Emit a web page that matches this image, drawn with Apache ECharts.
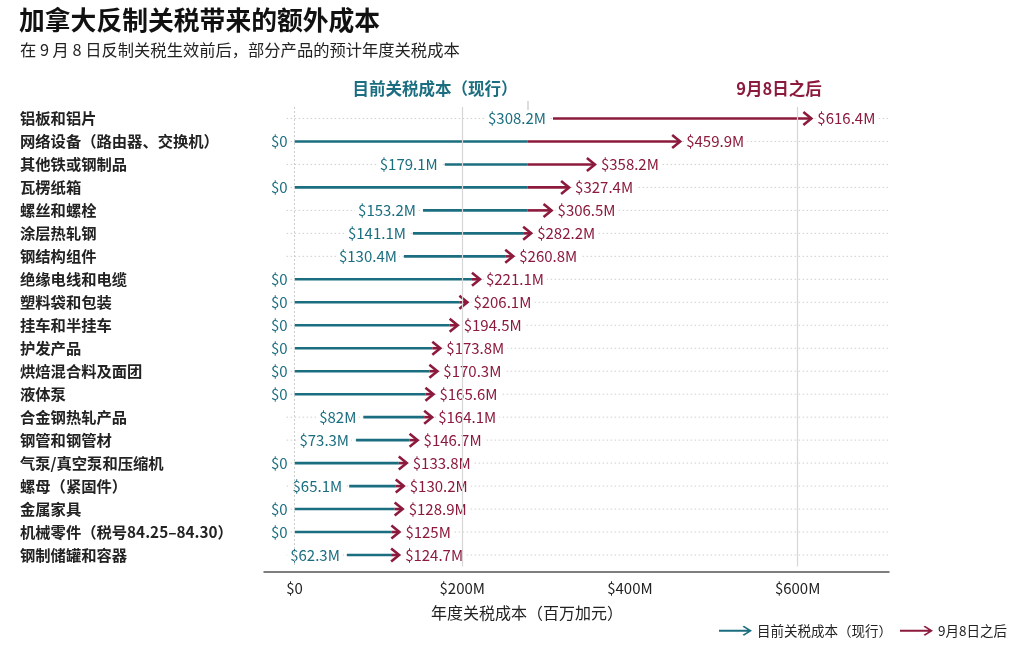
<!DOCTYPE html>
<html>
<head>
<meta charset="utf-8">
<script src="https://cdn.jsdelivr.net/npm/echarts@6/dist/echarts.min.js"></script>
<style>
html,body{margin:0;padding:0;background:#fff;}
#chart{width:1024px;height:653px;}
</style>
</head>
<body>
<div id="chart"></div>
<script>
// ---- data ----
const categories = [
  '铝板和铝片', '网络设备（路由器、交换机）', '其他铁或钢制品', '瓦楞纸箱', '螺丝和螺栓',
  '涂层热轧钢', '钢结构组件', '绝缘电线和电缆', '塑料袋和包装', '挂车和半挂车',
  '护发产品', '烘焙混合料及面团', '液体泵', '合金钢热轧产品', '钢管和钢管材',
  '气泵/真空泵和压缩机', '螺母（紧固件）', '金属家具', '机械零件（税号84.25–84.30）', '钢制储罐和容器'
];
const currentCost = [308.2, 0, 179.1, 0, 153.2, 141.1, 130.4, 0, 0, 0, 0, 0, 0, 82, 73.3, 0, 65.1, 0, 0, 62.3];
const afterCost   = [616.4, 459.9, 358.2, 327.4, 306.5, 282.2, 260.8, 221.1, 206.1, 194.5, 173.8, 170.3, 165.6, 164.1, 146.7, 133.8, 130.2, 128.9, 125, 124.7];
const xTicks = [0, 200, 400, 600];
const gridLineValues = [0, 200, 600];
const seriesNames = ['目前关税成本（现行）', '9月8日之后'];

// ---- style ----
const TEAL = '#1b6e80';
const RED = '#8c1a3c';
const TEXT = '#222222';
const CJK = '"Noto Sans CJK SC", "Noto Sans", sans-serif';
const NUM = '"Noto Sans CJK SC", "Noto Sans", sans-serif';
const SPLIT = 278;   // value at which the arrow changes colour

function fmt(v) { return v === 0 ? '$0' : '$' + v + 'M'; }

const rows = categories.map((c, i) => [currentCost[i], afterCost[i], i]);

const chart = echarts.init(document.getElementById('chart'));

const option = {
  backgroundColor: '#ffffff',
  animation: false,
  grid: { left: 264, right: 135, top: 107, bottom: 86.5 },
  xAxis: {
    type: 'value',
    min: -36.5,
    max: 709,
    offset: 5,
    axisLine: { show: true, lineStyle: { color: '#555', width: 1.5 } },
    axisTick: { show: false },
    splitLine: { show: false },
    axisLabel: {
      customValues: xTicks,
      formatter: v => fmt(v),
      color: TEXT, fontSize: 15, fontFamily: NUM, margin: 9
    }
  },
  yAxis: {
    type: 'category',
    data: categories,
    inverse: true,
    axisLine: { show: false },
    axisTick: { show: false },
    splitLine: { show: false },
    axisLabel: {
      align: 'left', margin: 244, color: TEXT, fontSize: 15.3, fontFamily: CJK, fontWeight: 'bold'
    }
  },
  legend: [{
    data: [seriesNames[0]],
    left: 719, top: 624, padding: 0,
    itemWidth: 33, itemHeight: 12,
    icon: 'path://M0,4.1 L28.5,4.1 L23.5,0.9 L25,0 L33,5 L25,10 L23.5,9.1 L28.5,5.9 L0,5.9 Z',
    textStyle: { color: TEXT, fontSize: 13.5, fontFamily: CJK },
    selectedMode: false
  }, {
    data: [seriesNames[1]],
    left: 900, top: 624, padding: 0,
    itemWidth: 33, itemHeight: 12,
    icon: 'path://M0,4.1 L28.5,4.1 L23.5,0.9 L25,0 L33,5 L25,10 L23.5,9.1 L28.5,5.9 L0,5.9 Z',
    textStyle: { color: TEXT, fontSize: 13.5, fontFamily: CJK },
    selectedMode: false
  }],
  graphic: [
    { type: 'text', left: 19, top: 7, style: { text: '加拿大反制关税带来的额外成本', fill: '#111', font: 'bold 25.8px ' + CJK } },
    { type: 'text', left: 20, top: 42, style: { text: '在 9 月 8 日反制关税生效前后，部分产品的预计年度关税成本', fill: TEXT, font: '16.3px ' + CJK } },
    { type: 'text', x: 435, y: 89, style: { text: seriesNames[0], fill: TEAL, font: 'bold 16.5px ' + CJK, align: 'center', verticalAlign: 'middle' } },
    { type: 'text', x: 779, y: 89, style: { text: '9月8日之后', fill: RED, font: 'bold 16.5px ' + CJK, align: 'center', verticalAlign: 'middle' } },
    { type: 'line', shape: { x1: 528, y1: 101, x2: 528, y2: 124 }, style: { stroke: '#bbbbbb', lineWidth: 1 } },
    { type: 'text', x: 527, y: 613, style: { text: '年度关税成本（百万加元）', fill: TEXT, font: '16px ' + CJK, align: 'center', verticalAlign: 'middle' } }
  ],
  series: [
    {
      type: 'custom',
      name: seriesNames[0],
      z: 3,
      itemStyle: { color: TEAL },
      encode: { x: [0, 1], y: 2 },
      data: rows,
      renderItem: function (params, api) {
        const cur = api.value(0), aft = api.value(1), idx = api.value(2);
        const p0 = api.coord([cur, idx]);
        const p1 = api.coord([aft, idx]);
        const ps = api.coord([SPLIT, idx]);
        const pz = api.coord([0, idx]);
        const cs = params.coordSys;
        const y = p0[1];
        const head = 8;
        const mid = Math.max(p0[0], Math.min(ps[0], p1[0] - head));
        return {
          type: 'group',
          children: [
            { type: 'line', shape: { x1: pz[0] - 8, y1: y, x2: cs.x + cs.width, y2: y },
              style: { stroke: '#cfcfcf', lineWidth: 1, lineDash: [1.5, 2.5] } },
            { type: 'line', shape: { x1: p0[0], y1: y, x2: mid, y2: y },
              style: { stroke: TEAL, lineWidth: 2.6 } },
            { type: 'line', shape: { x1: mid, y1: y, x2: p1[0] - 1, y2: y },
              style: { stroke: RED, lineWidth: 2.6 } },
            { type: 'polyline', shape: { points: [[p1[0] - 8, y - 6.5], [p1[0], y], [p1[0] - 8, y + 6.5]] },
              style: { stroke: RED, lineWidth: 2.6, fill: null, lineJoin: 'miter' } },
            { type: 'text', x: p0[0] - 5, y: y,
              style: { text: fmt(cur), fill: TEAL, font: '15px ' + NUM, align: 'right', verticalAlign: 'middle',
                       backgroundColor: '#ffffff', padding: [1, 2, 1, 3] } },
            { type: 'text', x: p1[0] + 4, y: y,
              style: { text: fmt(aft), fill: RED, font: '15px ' + NUM, align: 'left', verticalAlign: 'middle',
                       backgroundColor: '#ffffff', padding: [1, 3, 1, 2] } }
          ]
        };
      }
    },
    {
      type: 'custom',
      name: seriesNames[1],
      z: 1,
      itemStyle: { color: RED },
      data: [],
      renderItem: function () { return null; },
      markLine: {
        silent: true,
        symbol: 'none',
        label: { show: false },
        data: gridLineValues.map(v => ({
          xAxis: v,
          lineStyle: v === 0
            ? { color: '#cccccc', width: 1, type: [2, 2] }
            : { color: '#d6d6d6', width: 1.2, type: 'solid' }
        }))
      }
    }
  ]
};

chart.setOption(option);
</script>
</body>
</html>
